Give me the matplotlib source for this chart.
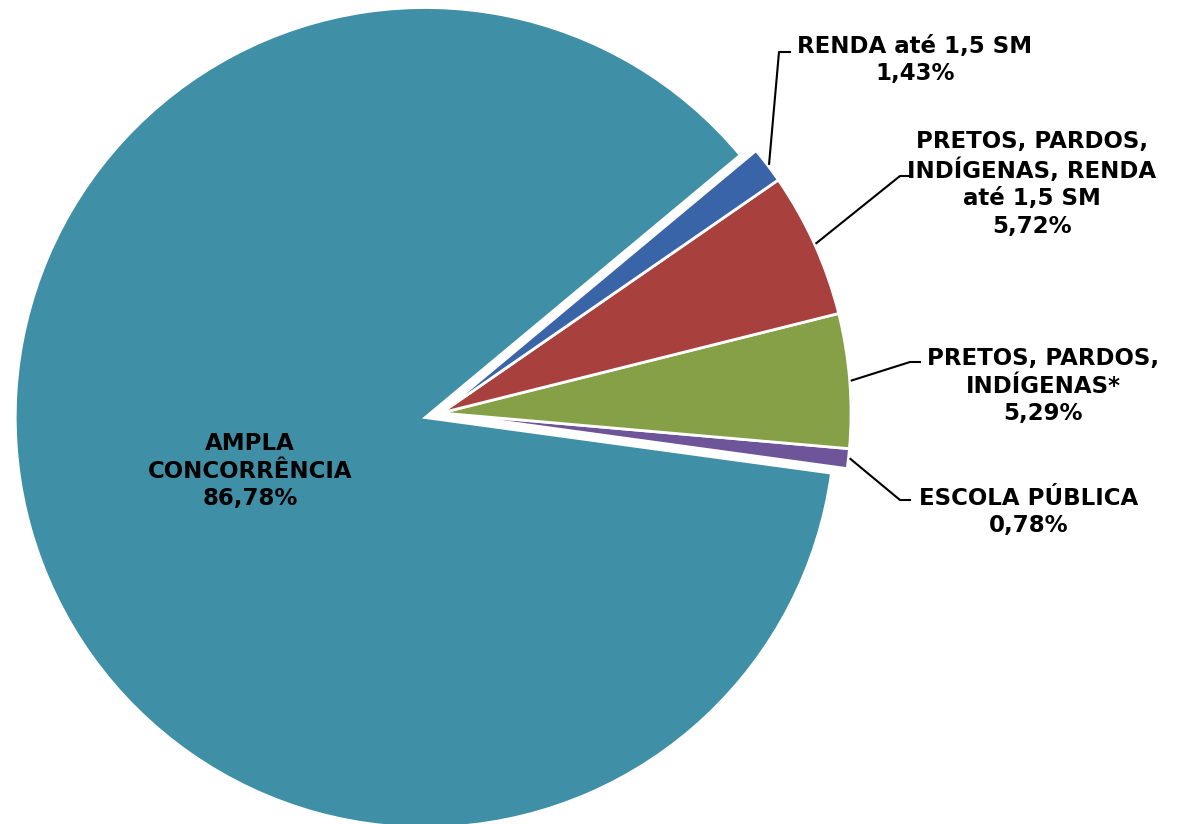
import numpy as np
import matplotlib as mpl
mpl.use('Agg')
import matplotlib.pyplot as plt

categories = ["ESCOLA PÚBLICA",
              "PRETOS, PARDOS,\nINDÍGENAS*",
              "PRETOS, PARDOS,\nINDÍGENAS, RENDA\naté 1,5 SM",
              "RENDA até 1,5 SM",
              "AMPLA\nCONCORRÊNCIA"]
values = [0.78, 5.29, 5.72, 1.43, 86.78]
pct_labels = ["0,78%", "5,29%", "5,72%", "1,43%", "86,78%"]
colors = ["#6E559A", "#86A048", "#A8403E", "#3A64A8", "#3F8FA6"]

W, H = 1187, 824
fig = plt.figure(figsize=(W / 100, H / 100), dpi=100)
ax = fig.add_axes([0, 0, 1, 1])

cx, cy, R = 441, 411, 410
# only the big slice is pulled out (explode is in data units here)
explode = [0, 0, 0, 0, 0.04 * R]
wedges, _ = ax.pie(values, colors=colors, explode=explode, startangle=-7.8,
                   counterclock=True, center=(cx, cy), radius=R, frame=True,
                   wedgeprops=dict(edgecolor='white', linewidth=2))
ax.set_xlim(0, W)
ax.set_ylim(0, H)
ax.set_aspect('equal')
ax.axis('off')

fs = 16.5
txt = dict(fontsize=fs, fontweight='bold', family='DejaVu Sans',
           ha='center', va='center', linespacing=1.25, color='black')

# label positions (text centre) and leader elbows, in pixel coords (y up)
label_pos = [(1029, H - 512), (1043, H - 386), (1032, H - 184), (915, H - 60), (250, H - 471)]
elbows = [[(900, H - 500), (910, H - 500)],
          [(910, H - 362), (920, H - 362)],
          [(900, H - 176), (910, H - 176)],
          [(779, H - 52), (790, H - 52)],
          None]

for i, w in enumerate(wedges):
    ax.text(label_pos[i][0], label_pos[i][1], categories[i] + "\n" + pct_labels[i], **txt)
    if elbows[i] is None:
        continue
    ang = np.deg2rad((w.theta1 + w.theta2) / 2)
    x0 = cx + (R + 2) * np.cos(ang)
    y0 = cy + (R + 2) * np.sin(ang)
    xs = [x0] + [p[0] for p in elbows[i]]
    ys = [y0] + [p[1] for p in elbows[i]]
    ax.plot(xs, ys, color='black', linewidth=1.5)

plt.savefig("out.png", dpi=100)
